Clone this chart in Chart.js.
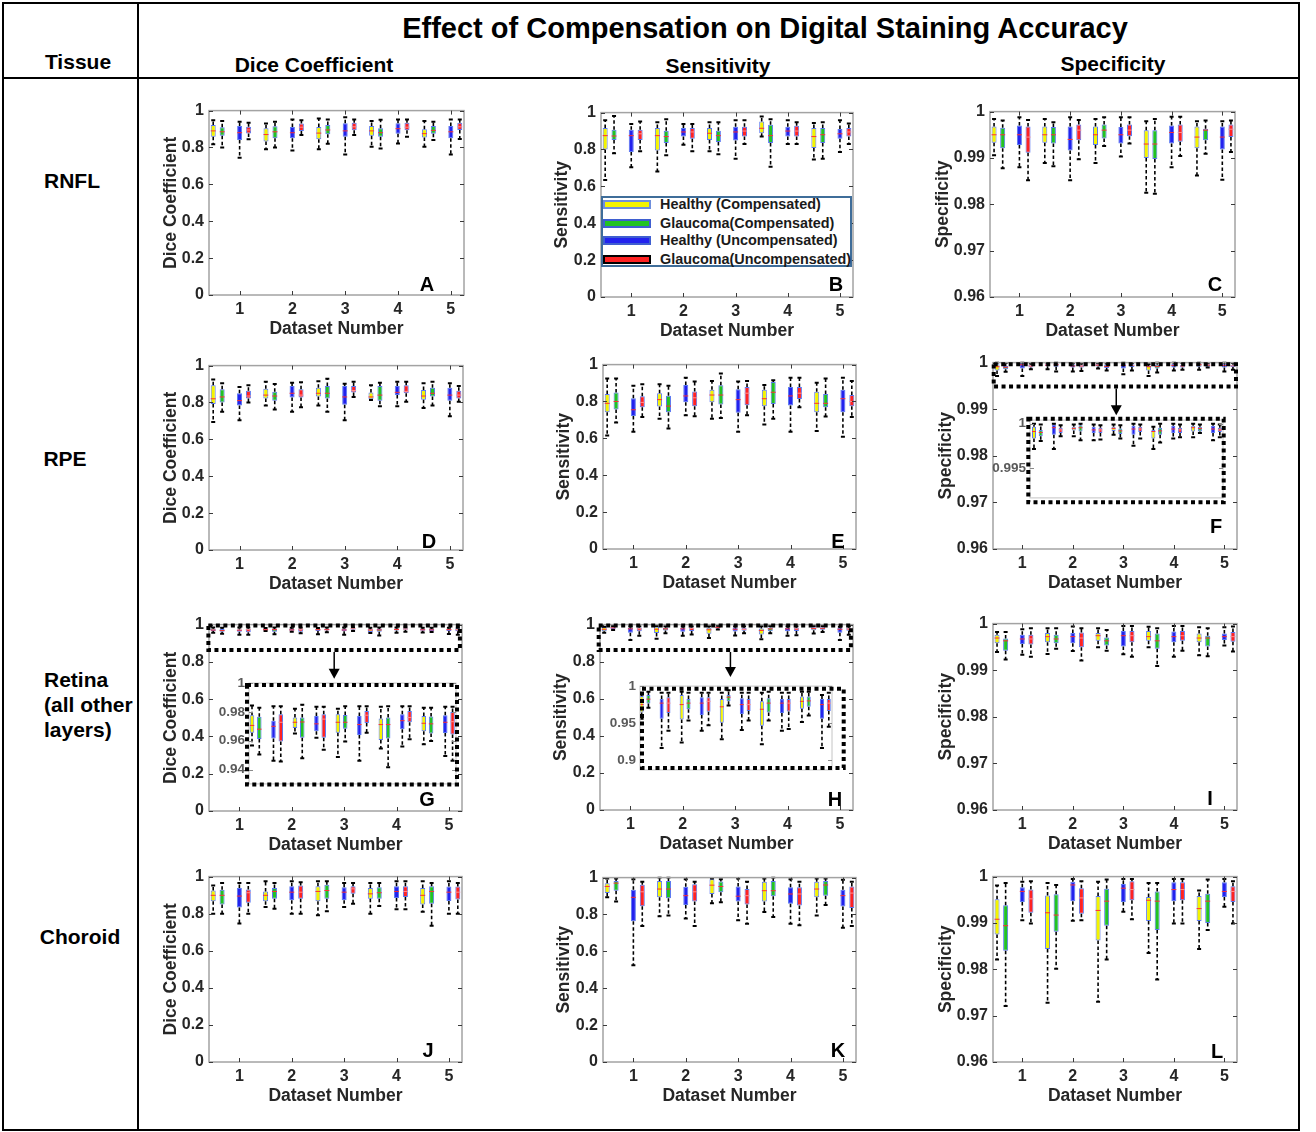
<!DOCTYPE html>
<html>
<head>
<meta charset="utf-8">
<title>Effect of Compensation on Digital Staining Accuracy</title>
<script src="https://cdn.jsdelivr.net/npm/chart.js@4.4.1/dist/chart.umd.min.js"></script>
<style>
  body { margin: 0; background: #fff; font-family: "Liberation Sans", Arial, sans-serif; }
  #page { position: relative; width: 1316px; height: 1132px; background: #fff; overflow: hidden; }
  .rule { position: absolute; background: #000; }
  .txt { position: absolute; font-weight: bold; color: #000; white-space: nowrap; transform: translate(-50%, -50%); }
  .left { transform: translate(0, -50%); }
  canvas { position: absolute; }
</style>
</head>
<body>
<div id="page"></div>
<script>
// ---- categories / ticks ----
const groupLabels = ['Healthy (Compensated)', 'Glaucoma(Compensated)', 'Healthy (Uncompensated)', 'Glaucoma(Uncompensated)'];
const datasetNumbers = [1, 2, 3, 4, 5];
const groupOffsets = [-0.5, -0.33, 0, 0.17];
const unitTicks = [0, 0.2, 0.4, 0.6, 0.8, 1];
const specTicks = [0.96, 0.97, 0.98, 0.99, 1];
const insetTicksF = [0.995, 1];
const insetTicksG = [0.94, 0.96, 0.98, 1];
const insetTicksH = [0.9, 0.95, 1];

// ---- box stats per panel: [group][dataset] = [low whisker, q1, median, q3, high whisker] ----
const diceRNFL = [
  [[0.818, 0.858, 0.89, 0.922, 0.947], [0.79, 0.833, 0.87, 0.904, 0.93], [0.79, 0.845, 0.878, 0.911, 0.957], [0.804, 0.863, 0.89, 0.916, 0.943], [0.804, 0.854, 0.875, 0.899, 0.943]],
  [[0.80, 0.863, 0.885, 0.91, 0.943], [0.80, 0.85, 0.885, 0.915, 0.94], [0.82, 0.872, 0.895, 0.922, 0.952], [0.795, 0.858, 0.88, 0.904, 0.95], [0.84, 0.875, 0.893, 0.916, 0.94]],
  [[0.744, 0.84, 0.88, 0.916, 0.94], [0.783, 0.85, 0.88, 0.911, 0.952], [0.762, 0.858, 0.89, 0.931, 0.964], [0.822, 0.875, 0.902, 0.932, 0.952], [0.762, 0.85, 0.885, 0.916, 0.952]],
  [[0.845, 0.876, 0.895, 0.913, 0.934], [0.868, 0.89, 0.91, 0.93, 0.948], [0.868, 0.893, 0.912, 0.934, 0.952], [0.858, 0.893, 0.91, 0.934, 0.952], [0.846, 0.895, 0.912, 0.934, 0.952]]
];
const sensRNFL = [
  [[0.635, 0.80, 0.875, 0.916, 0.959], [0.68, 0.795, 0.875, 0.916, 0.947], [0.79, 0.852, 0.888, 0.916, 0.947], [0.87, 0.888, 0.915, 0.952, 0.979], [0.745, 0.808, 0.87, 0.916, 0.943]],
  [[0.78, 0.852, 0.873, 0.907, 0.982], [0.769, 0.835, 0.87, 0.902, 0.964], [0.774, 0.84, 0.875, 0.902, 0.947], [0.706, 0.835, 0.875, 0.934, 0.964], [0.75, 0.835, 0.88, 0.916, 0.947]],
  [[0.703, 0.786, 0.875, 0.907, 0.938], [0.826, 0.87, 0.895, 0.916, 0.938], [0.75, 0.849, 0.895, 0.923, 0.959], [0.83, 0.87, 0.9, 0.923, 0.959], [0.786, 0.858, 0.885, 0.911, 0.959]],
  [[0.79, 0.852, 0.885, 0.907, 0.952], [0.79, 0.858, 0.895, 0.916, 0.938], [0.83, 0.87, 0.9, 0.923, 0.959], [0.83, 0.87, 0.9, 0.929, 0.947], [0.83, 0.87, 0.895, 0.916, 0.941]]
];
const specRNFL = [
  [[0.9906, 0.9933, 0.995, 0.9968, 0.9984], [0.9889, 0.9933, 0.995, 0.9968, 0.9984], [0.9889, 0.9928, 0.995, 0.9968, 0.9984], [0.9825, 0.99, 0.993, 0.996, 0.9979], [0.9862, 0.9921, 0.9945, 0.9968, 0.9979]],
  [[0.9878, 0.9921, 0.995, 0.9965, 0.9981], [0.9882, 0.9931, 0.995, 0.9967, 0.9977], [0.9926, 0.9942, 0.996, 0.9972, 0.9988], [0.9823, 0.9898, 0.993, 0.996, 0.9984], [0.9909, 0.9938, 0.996, 0.9963, 0.9981]],
  [[0.988, 0.9928, 0.995, 0.997, 0.9988], [0.9852, 0.9916, 0.994, 0.9968, 0.9988], [0.9903, 0.9931, 0.995, 0.9967, 0.9988], [0.988, 0.9931, 0.9955, 0.997, 0.9989], [0.9853, 0.9918, 0.9945, 0.9968, 0.9979]],
  [[0.9852, 0.9911, 0.9945, 0.9968, 0.9982], [0.9897, 0.9938, 0.996, 0.9972, 0.9982], [0.9931, 0.9947, 0.996, 0.9972, 0.9988], [0.9904, 0.9935, 0.9955, 0.9972, 0.9989], [0.9913, 0.9945, 0.9962, 0.9972, 0.9981]]
];
const diceRPE = [
  [[0.694, 0.792, 0.82, 0.893, 0.925], [0.783, 0.822, 0.84, 0.875, 0.913], [0.783, 0.833, 0.85, 0.88, 0.915], [0.813, 0.818, 0.83, 0.854, 0.893], [0.77, 0.815, 0.835, 0.868, 0.904]],
  [[0.75, 0.80, 0.83, 0.872, 0.904], [0.762, 0.81, 0.835, 0.858, 0.90], [0.75, 0.822, 0.85, 0.89, 0.929], [0.78, 0.81, 0.84, 0.89, 0.907], [0.783, 0.833, 0.85, 0.88, 0.913]],
  [[0.703, 0.783, 0.81, 0.85, 0.884], [0.75, 0.827, 0.85, 0.89, 0.907], [0.703, 0.788, 0.83, 0.89, 0.902], [0.78, 0.84, 0.855, 0.89, 0.913], [0.726, 0.81, 0.84, 0.88, 0.904]],
  [[0.80, 0.822, 0.835, 0.863, 0.893], [0.774, 0.827, 0.84, 0.872, 0.91], [0.83, 0.854, 0.865, 0.89, 0.913], [0.804, 0.85, 0.86, 0.893, 0.913], [0.804, 0.822, 0.84, 0.863, 0.89]]
];
const sensRPE = [
  [[0.615, 0.742, 0.79, 0.84, 0.924], [0.707, 0.773, 0.81, 0.845, 0.893], [0.707, 0.796, 0.835, 0.863, 0.911], [0.675, 0.774, 0.815, 0.863, 0.89], [0.64, 0.742, 0.79, 0.853, 0.902]],
  [[0.686, 0.757, 0.80, 0.849, 0.924], [0.654, 0.742, 0.775, 0.831, 0.885], [0.71, 0.783, 0.835, 0.888, 0.952], [0.707, 0.787, 0.85, 0.906, 0.915], [0.719, 0.769, 0.79, 0.84, 0.924]],
  [[0.636, 0.721, 0.755, 0.817, 0.885], [0.725, 0.796, 0.83, 0.89, 0.929], [0.636, 0.739, 0.81, 0.867, 0.908], [0.636, 0.778, 0.83, 0.879, 0.929], [0.609, 0.742, 0.815, 0.863, 0.929]],
  [[0.716, 0.769, 0.795, 0.828, 0.893], [0.72, 0.774, 0.82, 0.854, 0.908], [0.725, 0.78, 0.845, 0.879, 0.911], [0.769, 0.813, 0.845, 0.879, 0.929], [0.716, 0.774, 0.80, 0.835, 0.911]]
];
const specRPE = [
  [[0.99714, 0.99832, 0.99911, 0.99964, 1.0], [0.99857, 0.99921, 0.99946, 0.99964, 0.99989], [0.99875, 0.99918, 0.99946, 0.99964, 0.99989], [0.99714, 0.99832, 0.99911, 0.99929, 0.99964], [0.99846, 0.99911, 0.99954, 0.99975, 1.0]],
  [[0.99804, 0.99857, 0.999, 0.99929, 0.99989], [0.99811, 0.99911, 0.99954, 0.99982, 1.0], [0.99832, 0.99882, 0.99918, 0.99946, 0.99982], [0.99786, 0.99875, 0.99918, 0.99954, 1.0], [0.99893, 0.99911, 0.99946, 0.99964, 0.99989]],
  [[0.99714, 0.99875, 0.99954, 0.99989, 1.0], [0.99811, 0.99893, 0.99929, 0.99964, 0.99989], [0.9975, 0.99875, 0.99939, 0.99975, 1.0], [0.99832, 0.99893, 0.99939, 0.99975, 1.0], [0.99811, 0.99893, 0.99939, 0.99975, 1.0]],
  [[0.99857, 0.99893, 0.99929, 0.99954, 0.99982], [0.99821, 0.99893, 0.99929, 0.99954, 0.99982], [0.99832, 0.99904, 0.99939, 0.99964, 0.99989], [0.99846, 0.99893, 0.99929, 0.99954, 0.99989], [0.99846, 0.99904, 0.99929, 0.99954, 0.99989]]
];
const diceRetina = [
  [[0.9567, 0.9656, 0.9706, 0.9777, 0.9844], [0.965, 0.9688, 0.9728, 0.9761, 0.9822], [0.9487, 0.9656, 0.9728, 0.9784, 0.9822], [0.9545, 0.9605, 0.9712, 0.9755, 0.9835], [0.9576, 0.9665, 0.9721, 0.9772, 0.9828]],
  [[0.9505, 0.9612, 0.968, 0.9766, 0.9828], [0.9478, 0.9621, 0.973, 0.9761, 0.985], [0.9594, 0.9683, 0.9728, 0.9779, 0.984], [0.9416, 0.9616, 0.9712, 0.9761, 0.984], [0.9598, 0.965, 0.9717, 0.9768, 0.9828]],
  [[0.946, 0.9616, 0.970, 0.9739, 0.984], [0.9621, 0.9665, 0.9717, 0.9772, 0.9835], [0.946, 0.9639, 0.9712, 0.9772, 0.984], [0.956, 0.9679, 0.9739, 0.9784, 0.984], [0.9494, 0.9654, 0.9728, 0.9777, 0.9835]],
  [[0.9456, 0.9594, 0.9728, 0.9784, 0.984], [0.9538, 0.9621, 0.975, 0.9784, 0.9835], [0.9656, 0.9723, 0.9777, 0.9806, 0.984], [0.961, 0.9728, 0.9761, 0.9806, 0.984], [0.946, 0.9643, 0.9732, 0.9799, 0.9835]]
];
const sensRetina = [
  [[0.956, 0.9644, 0.975, 0.9867, 0.989], [0.9236, 0.955, 0.975, 0.988, 0.9923], [0.928, 0.9506, 0.972, 0.9824, 0.991], [0.9215, 0.9464, 0.9687, 0.9794, 0.991], [0.9515, 0.9695, 0.9794, 0.9858, 0.9923]],
  [[0.9708, 0.9764, 0.9824, 0.988, 0.9923], [0.9536, 0.9687, 0.977, 0.9824, 0.991], [0.9738, 0.9794, 0.985, 0.988, 0.9944], [0.9536, 0.9644, 0.977, 0.9837, 0.9923], [0.9601, 0.9721, 0.98, 0.9858, 0.9923]],
  [[0.9163, 0.9558, 0.977, 0.9824, 0.991], [0.9395, 0.961, 0.977, 0.985, 0.991], [0.9408, 0.9622, 0.975, 0.9837, 0.991], [0.9395, 0.9635, 0.977, 0.9824, 0.991], [0.9163, 0.9558, 0.975, 0.9824, 0.988]],
  [[0.9395, 0.9635, 0.977, 0.985, 0.991], [0.9472, 0.9652, 0.9794, 0.985, 0.991], [0.9536, 0.9665, 0.975, 0.9824, 0.991], [0.942, 0.9657, 0.977, 0.9824, 0.991], [0.945, 0.9665, 0.977, 0.9824, 0.991]]
];
const specRetina = [
  [[0.9939, 0.9958, 0.9969, 0.9976, 0.9982], [0.9935, 0.996, 0.9972, 0.998, 0.999], [0.9949, 0.9963, 0.9974, 0.998, 0.999], [0.9949, 0.9963, 0.9972, 0.9984, 0.9993], [0.9932, 0.996, 0.9969, 0.9979, 0.9992]],
  [[0.9923, 0.9942, 0.9963, 0.9968, 0.9982], [0.9946, 0.9958, 0.9967, 0.9976, 0.999], [0.9942, 0.9953, 0.9963, 0.997, 0.9986], [0.9909, 0.9946, 0.9963, 0.9979, 0.999], [0.993, 0.9951, 0.9969, 0.9974, 0.999]],
  [[0.9933, 0.9956, 0.9967, 0.9976, 0.9988], [0.9941, 0.9958, 0.9972, 0.998, 0.9994], [0.9934, 0.9951, 0.9974, 0.9984, 0.9995], [0.9929, 0.996, 0.9972, 0.9983, 0.9995], [0.9953, 0.9965, 0.9972, 0.9979, 0.9992]],
  [[0.9929, 0.9955, 0.9967, 0.9976, 0.999], [0.9921, 0.9949, 0.9969, 0.9981, 0.999], [0.9929, 0.996, 0.9974, 0.9984, 0.9995], [0.9942, 0.9963, 0.9974, 0.9984, 0.9995], [0.994, 0.9961, 0.9972, 0.9982, 0.9994]]
];
const diceChoroid = [
  [[0.80, 0.867, 0.899, 0.925, 0.952], [0.836, 0.867, 0.899, 0.92, 0.975], [0.792, 0.867, 0.92, 0.948, 0.975], [0.80, 0.88, 0.907, 0.938, 0.966], [0.81, 0.85, 0.899, 0.938, 0.975]],
  [[0.80, 0.849, 0.899, 0.929, 0.966], [0.827, 0.88, 0.92, 0.938, 0.966], [0.813, 0.88, 0.925, 0.956, 0.975], [0.842, 0.88, 0.913, 0.943, 0.966], [0.735, 0.854, 0.92, 0.948, 0.966]],
  [[0.747, 0.833, 0.895, 0.938, 0.966], [0.80, 0.872, 0.916, 0.948, 0.975], [0.836, 0.872, 0.916, 0.943, 0.966], [0.824, 0.884, 0.92, 0.948, 0.975], [0.80, 0.868, 0.916, 0.947, 0.975]],
  [[0.80, 0.859, 0.913, 0.93, 0.966], [0.80, 0.88, 0.916, 0.952, 0.97], [0.854, 0.907, 0.934, 0.948, 0.966], [0.824, 0.89, 0.92, 0.948, 0.975], [0.80, 0.877, 0.916, 0.947, 0.966]]
];
const sensChoroid = [
  [[0.893, 0.916, 0.952, 0.97, 0.995], [0.79, 0.893, 0.938, 0.982, 1.0], [0.861, 0.911, 0.959, 0.991, 0.995], [0.813, 0.87, 0.929, 0.977, 0.995], [0.795, 0.893, 0.938, 0.977, 0.995]],
  [[0.87, 0.929, 0.97, 0.982, 0.995], [0.795, 0.888, 0.938, 0.982, 1.0], [0.867, 0.92, 0.952, 0.979, 0.991], [0.786, 0.899, 0.929, 0.982, 1.0], [0.852, 0.902, 0.96, 0.982, 0.995]],
  [[0.525, 0.763, 0.893, 0.934, 0.991], [0.778, 0.852, 0.902, 0.95, 0.991], [0.769, 0.87, 0.899, 0.952, 0.995], [0.75, 0.858, 0.911, 0.947, 0.991], [0.728, 0.843, 0.902, 0.934, 0.988]],
  [[0.738, 0.845, 0.923, 0.961, 0.977], [0.738, 0.87, 0.923, 0.964, 0.977], [0.75, 0.854, 0.902, 0.938, 0.977], [0.742, 0.849, 0.911, 0.947, 0.977], [0.738, 0.835, 0.916, 0.952, 0.977]]
];
const specChoroid = [
  [[0.9821, 0.9875, 0.9908, 0.9951, 0.9981], [0.9728, 0.9844, 0.9922, 0.9959, 0.9986], [0.973, 0.9862, 0.9927, 0.9958, 0.9989], [0.9835, 0.9904, 0.9949, 0.9956, 0.9986], [0.9844, 0.9904, 0.9931, 0.9958, 0.997]],
  [[0.9721, 0.984, 0.9894, 0.9938, 0.9986], [0.9801, 0.9881, 0.9917, 0.9962, 0.9982], [0.9821, 0.9894, 0.9947, 0.9974, 0.9994], [0.9778, 0.9885, 0.9947, 0.9968, 0.9986], [0.9885, 0.99, 0.9947, 0.9963, 0.9994]],
  [[0.9906, 0.9945, 0.9968, 0.9977, 0.9989], [0.9905, 0.9947, 0.9982, 0.9989, 0.9995], [0.9924, 0.9945, 0.9975, 0.9984, 0.9995], [0.9899, 0.9947, 0.9972, 0.9988, 0.9995], [0.9935, 0.9956, 0.9968, 0.9988, 0.9995]],
  [[0.9899, 0.9922, 0.9952, 0.9972, 0.999], [0.9906, 0.992, 0.9954, 0.9975, 0.999], [0.9908, 0.9949, 0.9972, 0.999, 0.9995], [0.9899, 0.9949, 0.9972, 0.9988, 0.9995], [0.9899, 0.9945, 0.9968, 0.9979, 0.999]]
];

// ---- styling ----
const groupColors = ['#f4f400', '#22c322', '#2222ee', '#ff2222'];
const medianColors = ['#ff3030', '#ff3030', '#ff3030', '#ff9090'];
const boxEdge = '#5a78f0';
const inkColor = '#262626';
Chart.defaults.font.family = '"Liberation Sans", Arial, sans-serif';
Chart.defaults.font.weight = 'bold';
Chart.defaults.color = inkColor;

const page = document.getElementById('page');

function boxDatasets(stats, barW) {
  return stats.map((group, g) => ({
    label: groupLabels[g],
    data: group.map((s, i) => ({ x: datasetNumbers[i] + groupOffsets[g], y: [s[1], s[3]] })),
    stats: group,
    medianColor: medianColors[g],
    backgroundColor: groupColors[g],
    borderColor: boxEdge,
    borderWidth: 1,
    borderSkipped: false,
    grouped: false,
    maxBarThickness: barW
  }));
}

// whiskers, caps and medians on top of the floating bars
const boxPlugin = {
  id: 'boxWhiskers',
  afterDatasetsDraw(chart) {
    const { ctx, chartArea: a, scales: { y } } = chart;
    ctx.save();
    ctx.beginPath();
    ctx.rect(a.left, a.top - 1, a.right - a.left, a.bottom - a.top + 2);
    ctx.clip();
    chart.data.datasets.forEach((ds, di) => {
      chart.getDatasetMeta(di).data.forEach((bar, i) => {
        const [lo, q1, med, q3, hi] = ds.stats[i];
        const x = bar.x;
        const hw = bar.width / 2;
        const pLo = y.getPixelForValue(lo), pQ1 = y.getPixelForValue(q1);
        const pQ3 = y.getPixelForValue(q3), pHi = y.getPixelForValue(hi);
        const pMed = y.getPixelForValue(med);
        ctx.strokeStyle = '#000';
        ctx.lineWidth = 1.6;
        ctx.setLineDash([3.5, 2.5]);
        ctx.beginPath();
        ctx.moveTo(x, pQ3); ctx.lineTo(x, pHi);
        ctx.moveTo(x, pQ1); ctx.lineTo(x, pLo);
        ctx.stroke();
        ctx.setLineDash([]);
        ctx.lineWidth = 2;
        ctx.beginPath();
        ctx.moveTo(x - 2, pHi); ctx.lineTo(x + 2, pHi);
        ctx.moveTo(x - 2, pLo); ctx.lineTo(x + 2, pLo);
        ctx.stroke();
        ctx.strokeStyle = ds.medianColor;
        ctx.lineWidth = 1;
        ctx.beginPath();
        ctx.moveTo(x - hw, pMed); ctx.lineTo(x + hw, pMed);
        ctx.stroke();
      });
    });
    ctx.restore();
  }
};

// axes box, inward ticks, dotted zoom boxes and arrows
const framePlugin = {
  id: 'frame',
  afterDraw(chart, args, o) {
    const { ctx, chartArea: a, scales: { x, y } } = chart;
    ctx.save();
    ctx.strokeStyle = o.boxColor;
    ctx.lineWidth = o.boxWidth;
    ctx.strokeRect(a.left, a.top, a.right - a.left, a.bottom - a.top);
    ctx.strokeStyle = o.tickColor;
    ctx.lineWidth = 1;
    ctx.beginPath();
    y.ticks.forEach(t => {
      const py = Math.round(y.getPixelForValue(t.value)) + 0.5;
      ctx.moveTo(a.left, py); ctx.lineTo(a.left + 4, py);
      ctx.moveTo(a.right, py); ctx.lineTo(a.right - 4, py);
    });
    if (o.xTicks) {
      x.ticks.forEach(t => {
        const px = Math.round(x.getPixelForValue(t.value)) + 0.5;
        ctx.moveTo(px, a.bottom); ctx.lineTo(px, a.bottom - 4);
        ctx.moveTo(px, a.top); ctx.lineTo(px, a.top + 4);
      });
    }
    ctx.stroke();

    ctx.strokeStyle = '#000';
    ctx.fillStyle = '#000';
    if (o.zoomBox) {
      const z = o.zoomBox;
      const x0 = x.getPixelForValue(z.x[0]), x1 = x.getPixelForValue(z.x[1]);
      const y0 = y.getPixelForValue(z.y[1]), y1 = y.getPixelForValue(z.y[0]);
      ctx.lineWidth = 4;
      ctx.setLineDash([4, 3.5]);
      ctx.strokeRect(x0, y0, x1 - x0, y1 - y0);
      ctx.setLineDash([]);
      const ax = x.getPixelForValue(z.arrowX);
      const aTop = y.getPixelForValue(z.arrowY[0]) + 2, aTip = y.getPixelForValue(z.arrowY[1]);
      ctx.lineWidth = 1.5;
      ctx.beginPath();
      ctx.moveTo(ax, aTop); ctx.lineTo(ax, aTip - 8);
      ctx.stroke();
      ctx.beginPath();
      ctx.moveTo(ax - 5.5, aTip - 10); ctx.lineTo(ax + 5.5, aTip - 10); ctx.lineTo(ax, aTip);
      ctx.closePath();
      ctx.fill();
    }
    if (o.band) {
      const [dl, dt, dr, db] = o.band;
      ctx.lineWidth = 4;
      ctx.setLineDash([4, 3.5]);
      ctx.strokeRect(a.left + dl, a.top + dt, (a.right + dr) - (a.left + dl), (a.bottom + db) - (a.top + dt));
    }
    ctx.restore();
  }
};

function addCanvas(left, top, w, h) {
  const cv = document.createElement('canvas');
  cv.width = w; cv.height = h;
  cv.style.left = left + 'px'; cv.style.top = top + 'px';
  cv.style.width = w + 'px'; cv.style.height = h + 'px';
  page.appendChild(cv);
  return cv;
}

function makePanel(p) {
  const W = p.yw + p.w + 12, H = 12 + p.h + 46;
  const cv = addCanvas(p.left - p.yw, p.top - 12, W, H);
  new Chart(cv, {
    type: 'bar',
    data: { datasets: boxDatasets(p.stats, 5) },
    options: {
      responsive: false,
      maintainAspectRatio: false,
      animation: false,
      events: [],
      layout: { padding: { top: 12, right: 12, left: 0, bottom: 0 } },
      plugins: {
        legend: { display: false },
        tooltip: { enabled: false },
        frame: { boxColor: '#a3a3a3', boxWidth: 1.5, tickColor: '#3a3a3a', xTicks: true, zoomBox: p.zoomBox || null }
      },
      scales: {
        x: {
          type: 'linear', min: 0.42, max: 5.25, offset: false,
          grid: { display: false, drawTicks: false }, border: { display: false },
          afterBuildTicks: s => { s.ticks = datasetNumbers.map(v => ({ value: v })); },
          afterFit: s => { s.height = 46; },
          ticks: { padding: 5, autoSkip: false, maxRotation: 0, font: { size: 16, weight: 'bold' }, color: inkColor, callback: v => String(v) },
          title: { display: true, text: 'Dataset Number', color: inkColor, font: { size: 17.5, weight: 'bold' }, padding: { top: 0, bottom: 1 } }
        },
        y: {
          min: p.range[0], max: p.range[1],
          grid: { display: false, drawTicks: false }, border: { display: false },
          afterBuildTicks: s => { s.ticks = p.ticks.map(v => ({ value: v })); },
          afterFit: s => { s.width = p.yw; },
          ticks: { padding: 5, autoSkip: false, font: { size: 16, weight: 'bold' }, color: inkColor, callback: v => String(v) },
          title: { display: true, text: p.title, color: inkColor, font: { size: 17.5, weight: 'bold' }, padding: { top: 0, bottom: 0 } }
        }
      }
    },
    plugins: [boxPlugin, framePlugin]
  });
}

function makeInset(q) {
  const W = 45 + q.w + 20, H = q.h + 20;
  const cv = addCanvas(q.left - 45, q.top - 10, W, H);
  new Chart(cv, {
    type: 'bar',
    data: { datasets: boxDatasets(q.stats, q.barW) },
    options: {
      responsive: false,
      maintainAspectRatio: false,
      animation: false,
      events: [],
      layout: { padding: { top: 10, right: 20, left: 0, bottom: 10 } },
      plugins: {
        legend: { display: false },
        tooltip: { enabled: false },
        frame: { boxColor: '#c4c4c4', boxWidth: 1, tickColor: '#8a8a8a', xTicks: false, band: q.band }
      },
      scales: {
        x: { type: 'linear', display: false, min: q.xRange[0], max: q.xRange[1], offset: false },
        y: {
          min: q.range[0], max: q.range[1],
          grid: { display: false, drawTicks: false }, border: { display: false },
          afterBuildTicks: s => { s.ticks = q.ticks.map(v => ({ value: v })); },
          afterFit: s => { s.width = 45; },
          ticks: { padding: 4, autoSkip: false, font: { size: 13.5, weight: 'bold' }, color: '#5a5a5a', callback: v => String(v) }
        }
      }
    },
    plugins: [boxPlugin, framePlugin]
  });
}

// ---- page frame (table rules) ----
function rule(l, t, w, h) {
  const d = document.createElement('div');
  d.className = 'rule';
  d.style.cssText = `left:${l}px;top:${t}px;width:${w}px;height:${h}px;`;
  page.appendChild(d);
}
rule(2, 2, 1298, 2);
rule(2, 1129, 1298, 2);
rule(2, 2, 2, 1129);
rule(1298, 2, 2, 1129);
rule(137, 2, 2, 1129);
rule(2, 77, 1298, 2);

function text(str, x, y, size, cls) {
  const d = document.createElement('div');
  d.className = 'txt' + (cls ? ' ' + cls : '');
  d.style.cssText = `left:${x}px;top:${y}px;font-size:${size}px;`;
  d.textContent = str;
  page.appendChild(d);
}

// ---- panels ----
const panels = [
  { left: 209, top: 108, w: 255, h: 187, yw: 48, range: [0, 1], ticks: unitTicks, title: 'Dice Coefficient', stats: diceRNFL },
  { left: 601, top: 110, w: 252, h: 187, yw: 49, range: [0, 1], ticks: unitTicks, title: 'Sensitivity', stats: sensRNFL },
  { left: 990, top: 109, w: 245, h: 188, yw: 57, range: [0.96, 1], ticks: specTicks, title: 'Specificity', stats: specRNFL },
  { left: 209, top: 363, w: 254, h: 187, yw: 48, range: [0, 1], ticks: unitTicks, title: 'Dice Coefficient', stats: diceRPE },
  { left: 603, top: 362, w: 253, h: 187, yw: 49, range: [0, 1], ticks: unitTicks, title: 'Sensitivity', stats: sensRPE },
  { left: 993, top: 360, w: 244, h: 189, yw: 57, range: [0.96, 1], ticks: specTicks, title: 'Specificity', stats: specRPE,
    zoomBox: { x: [0.434, 5.23], y: [0.99486, 0.99964], arrowX: 2.86, arrowY: [0.99486, 0.9887] } },
  { left: 209, top: 622, w: 253, h: 189, yw: 48, range: [0, 1], ticks: unitTicks, title: 'Dice Coefficient', stats: diceRetina,
    zoomBox: { x: [0.408, 5.21], y: [0.8635, 0.995], arrowX: 2.81, arrowY: [0.8635, 0.709] } },
  { left: 600, top: 622, w: 253, h: 188, yw: 49, range: [0, 1], ticks: unitTicks, title: 'Sensitivity', stats: sensRetina,
    zoomBox: { x: [0.395, 5.21], y: [0.863, 0.995], arrowX: 2.91, arrowY: [0.863, 0.717] } },
  { left: 993, top: 621, w: 244, h: 189, yw: 57, range: [0.96, 1], ticks: specTicks, title: 'Specificity', stats: specRetina },
  { left: 209, top: 874, w: 253, h: 188, yw: 48, range: [0, 1], ticks: unitTicks, title: 'Dice Coefficient', stats: diceChoroid },
  { left: 603, top: 875, w: 253, h: 187, yw: 49, range: [0, 1], ticks: unitTicks, title: 'Sensitivity', stats: sensChoroid },
  { left: 993, top: 874, w: 244, h: 188, yw: 57, range: [0.96, 1], ticks: specTicks, title: 'Specificity', stats: specChoroid }
];
panels.forEach(makePanel);

const insets = [
  { left: 1030, top: 418, w: 193, h: 82, range: [0.9916, 1.0004], xRange: [0.40, 5.25], ticks: insetTicksF, stats: specRPE, barW: 4, band: [-1.7, -1.3, 0.7, 4.3] },
  { left: 249, top: 681, w: 207, h: 105, range: [0.93, 1.0], xRange: [0.43, 5.25], ticks: insetTicksG, stats: diceRetina, barW: 4.5, band: [-2, 2, 1, 0.5] },
  { left: 640, top: 684, w: 192, h: 88, range: [0.8867, 1.0], xRange: [0.46, 5.25], ticks: insetTicksH, stats: sensRetina, barW: 4, band: [2, 2.7, 11.7, -2] }
];
insets.forEach(makeInset);

// ---- legend (panel B) ----
const legendBorders = ['#6f8fdc', '#3f5fd0', '#3f5fd0', '#000'];
const legendRows = [7.3, 25.7, 43.3, 61.7];
const legend = document.createElement('div');
legend.style.cssText = 'position:absolute;left:601px;top:196px;width:247px;height:67px;border:2px solid #3f6d99;background:#fff;';
groupLabels.forEach((lab, g) => {
  const sw = document.createElement('div');
  sw.style.cssText = `position:absolute;left:0px;top:${legendRows[g] - 5}px;width:44px;height:5px;background:${groupColors[g]};border:2px solid ${legendBorders[g]};`;
  legend.appendChild(sw);
  const t = document.createElement('div');
  t.style.cssText = `position:absolute;left:57px;top:${legendRows[g] - 9}px;font-size:14.4px;line-height:16px;font-weight:bold;color:#1a1a1a;white-space:nowrap;`;
  t.textContent = lab;
  legend.appendChild(t);
});
page.appendChild(legend);

// ---- headings ----
text('Effect of Compensation on Digital Staining Accuracy', 765, 28, 29);
text('Tissue', 78, 62, 21);
text('Dice Coefficient', 314, 65, 21);
text('Sensitivity', 718, 66, 21);
text('Specificity', 1113, 64, 21);
text('RNFL', 72, 181, 21);
text('RPE', 65, 459, 21);
text('Retina', 44, 680, 21, 'left');
text('(all other', 44, 705, 21, 'left');
text('layers)', 44, 730, 21, 'left');
text('Choroid', 80, 937, 21);

// ---- panel letters ----
const letters = ['A', 'B', 'C', 'D', 'E', 'F', 'G', 'H', 'I', 'J', 'K', 'L'];
const letterPos = [[427, 284], [836, 284], [1215, 284], [429, 541], [838, 541], [1216, 526],
                   [427, 799], [835, 799], [1210, 798], [428, 1050], [838, 1050], [1217, 1051]];
letters.forEach((l, i) => text(l, letterPos[i][0], letterPos[i][1], 20));
</script>
</body>
</html>
